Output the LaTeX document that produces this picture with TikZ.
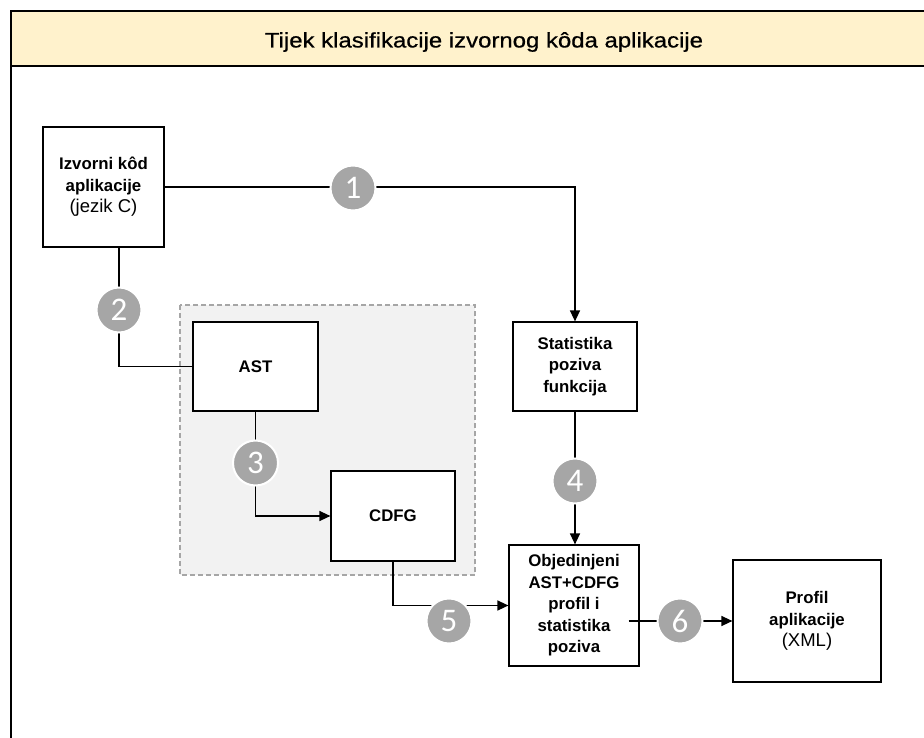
\documentclass[tikz,border=0pt]{standalone}
\usepackage{fontspec}
\setmainfont{Liberation Sans}
\newfontfamily\numfont{Carlito}
\newfontfamily\titlefont[FakeBold=0.6]{Liberation Sans}
\usetikzlibrary{arrows.meta,calc}
\definecolor{hdr}{HTML}{FFF2CC}
\definecolor{grp}{HTML}{F2F2F2}
\definecolor{grpb}{HTML}{A6A6A6}
\definecolor{badge}{HTML}{A6A6A6}
\newcommand{\reglin}[1]{{\fontsize{18.5}{21.5}\selectfont #1}}
\begin{document}
\begin{tikzpicture}[x=1pt,y=-1pt,
  box/.style={draw=black, line width=1.2pt, fill=white, align=center,
    font=\fontsize{16.8}{21.5}\selectfont\bfseries, inner sep=0pt},
  num/.style={circle, fill=badge, draw=white, line width=2pt, minimum size=45pt,
    inner sep=0pt, text=white, font=\numfont\fontsize{33}{33}\selectfont},
  conn/.style={line width=1.4pt},
  arr/.style={conn, -{Triangle[length=11pt,width=10pt]}}]
\useasboundingbox (0,0) rectangle (924,738);
\clip (0,0) rectangle (924,738);
% frame and header
\fill[white] (0,0) rectangle (924,738);
\fill[hdr] (11,11) rectangle (960,66);
\draw[line width=1.5pt] (11,11) rectangle (960,800);
\draw[line width=2.2pt] (11,11) -- (960,11);
\draw[line width=1.2pt] (11,66) -- (960,66);
\node[font=\titlefont\fontsize{21}{24}\selectfont] (title) at (484,42) {\scalebox{1.14}[1]{Tijek klasifikacije izvornog kôda aplikacije}};
% group
\draw[grpb, fill=grp, line width=1.2pt, dash pattern=on 5pt off 3pt] (180,305) rectangle (475,575);
% boxes
\node[box, minimum width=121pt, minimum height=120pt] (src) at (103.5,187)
  {Izvorni kôd\\aplikacije\\\mdseries\reglin{(jezik C)}};
\node[box, minimum width=125pt, minimum height=89pt] (ast) at (255.5,366.5) {AST};
\node[box, minimum width=124pt, minimum height=90pt] (cdfg) at (393,516) {CDFG};
\node[box, minimum width=124pt, minimum height=89pt] (stat) at (575,366.5)
  {Statistika\\poziva\\funkcija};
\node[box, minimum width=130pt, minimum height=121pt] (obj) at (574,605.5)
  {Objedinjeni\\AST+CDFG\\profil i\\statistika\\poziva};
\node[box, minimum width=148pt, minimum height=122pt] (prof) at (807,621)
  {Profil\\aplikacije\\\mdseries\reglin{(XML)}};
% connectors
\draw[arr] (src.east) -- (src.east -| stat.north) -- (stat.north);
\draw[conn] ([xshift=15.5pt]src.south) |- (ast.west);
\draw[arr] (ast.south) |- (cdfg.west);
\draw[arr] (stat.south) -- (stat.south |- obj.north);
\draw[arr] (cdfg.south) |- (obj.west);
\draw[arr] ([xshift=-11pt]obj.east |- prof.west) -- (prof.west);
% badges
\node[num] (n1) at (353,188) {1};
\node[num] (n2) at (119,310) {2};
\node[num] (n3) at (255.5,463) {3};
\node[num] (n4) at (575,481) {4};
\node[num] (n5) at (449,621) {5};
\node[num] (n6) at (680,621) {6};
\end{tikzpicture}
\end{document}
